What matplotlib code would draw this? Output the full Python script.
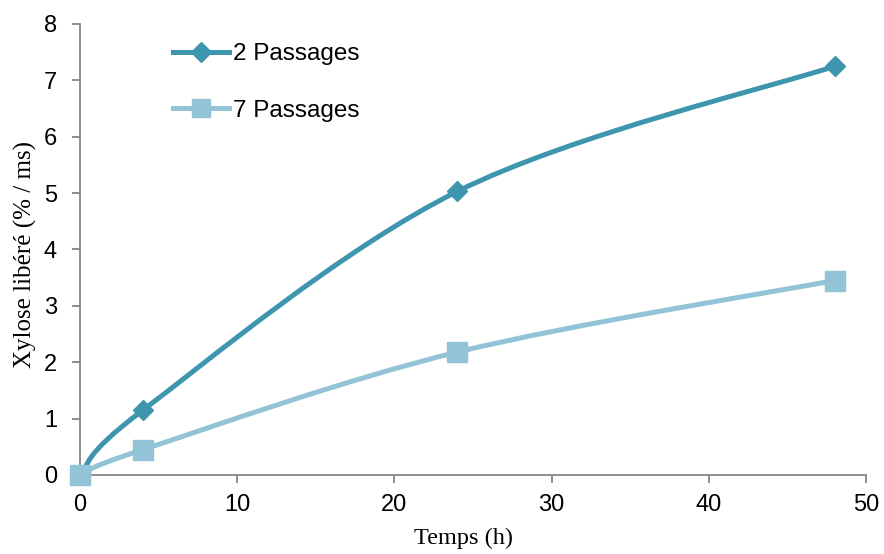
import numpy as np
import matplotlib
matplotlib.use('Agg')
import matplotlib.pyplot as plt
from matplotlib.path import Path
from matplotlib.patches import PathPatch
from matplotlib.lines import Line2D

# data
temps = [0, 4, 24, 48]
passages_2 = [0, 1.15, 5.03, 7.25]
passages_7 = [0, 0.45, 2.18, 3.45]
series_names = ['2 Passages', '7 Passages']

dark = '#3E95AE'
light = '#92C3D6'


def smooth_path(x, y):
    """Catmull-Rom style bezier through the points (like a spreadsheet smoothed line)."""
    p = np.column_stack([x, y]).astype(float)
    n = len(p)
    verts = [p[0]]
    codes = [Path.MOVETO]
    for i in range(n - 1):
        p0 = p[i - 1] if i > 0 else p[i]
        p3 = p[i + 2] if i + 2 < n else p[i + 1]
        c1 = p[i] + (p[i + 1] - p0) / 6.0
        c2 = p[i + 1] - (p3 - p[i]) / 6.0
        verts += [c1, c2, p[i + 1]]
        codes += [Path.CURVE4] * 3
    return Path(verts, codes)


fig = plt.figure(figsize=(8.84, 5.54), dpi=100)
ax = fig.add_axes([0.0905, 0.1426, 0.8891, 0.8141])

lw = 3.6
styles = [(passages_2, dark, 'D', 10), (passages_7, light, 's', 14)]
for yv, col, mk, ms in styles:
    ax.add_patch(PathPatch(smooth_path(temps, yv), facecolor='none',
                           edgecolor=col, lw=lw, capstyle='round', zorder=2))
    ax.plot(temps, yv, linestyle='none', marker=mk, ms=ms, color=col,
            zorder=3, clip_on=False)

ax.set_xlim(0, 50)
ax.set_ylim(0, 8)
ax.set_xticks(range(0, 51, 10))
ax.set_yticks(range(0, 9))
for s in ['top', 'right']:
    ax.spines[s].set_visible(False)
for s in ['left', 'bottom']:
    ax.spines[s].set_color('#868686')
    ax.spines[s].set_linewidth(1.3)
ax.tick_params(direction='out', color='#868686', width=1.3, length=5.5,
               labelsize=17)
ax.tick_params(axis='x', pad=8)
ax.tick_params(axis='y', pad=11)
for lab in ax.get_xticklabels() + ax.get_yticklabels():
    lab.set_fontfamily('Liberation Sans')

ax.set_xlabel('Temps (h)', fontfamily='Liberation Serif', fontsize=17.5)
ax.set_ylabel('Xylose libéré (% / ms)', fontfamily='Liberation Serif', fontsize=18)
ax.xaxis.set_label_coords(0.4885, -0.117)
ax.yaxis.set_label_coords(-0.055, 0.49)

handles = [Line2D([], [], color=dark, lw=lw, marker='D', ms=10),
           Line2D([], [], color=light, lw=lw, marker='s', ms=13)]
fig.legend(handles, series_names, loc='upper left', bbox_to_anchor=(0.1957, 0.922),
           frameon=False, handlelength=2.3, handletextpad=0.15, labelspacing=1.42,
           borderpad=0, borderaxespad=0,
           prop={'family': 'Liberation Sans', 'size': 17.5})

fig.savefig('out.png', dpi=100)
